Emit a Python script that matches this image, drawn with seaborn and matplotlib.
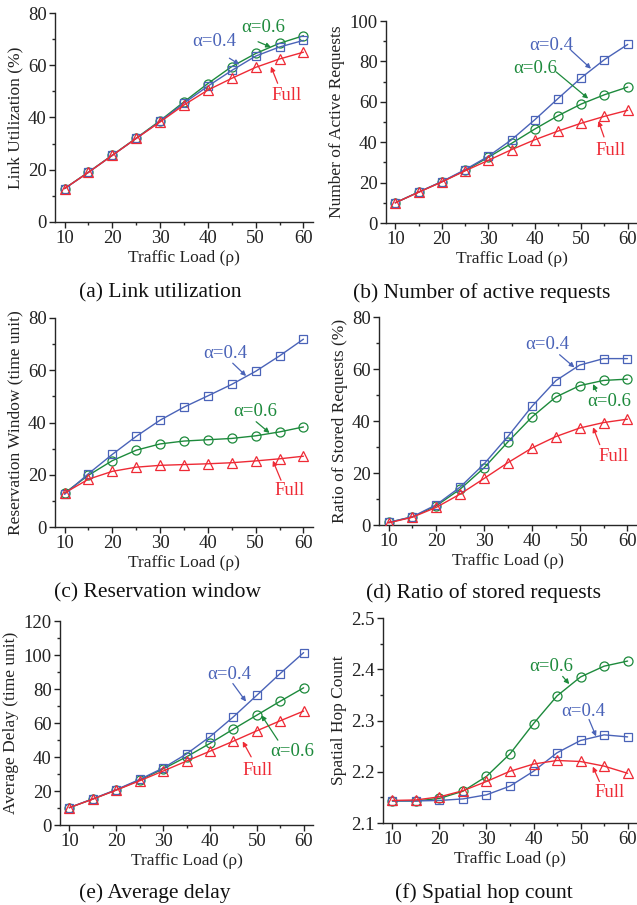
import matplotlib
matplotlib.use("Agg")
import matplotlib.pyplot as plt
import seaborn as sns
import pandas as pd

# traffic load
load = [10, 15, 20, 25, 30, 35, 40, 45, 50, 55, 60]

# (a) link utilization (%)
util_a04 = [12.8, 19.0, 25.5, 32.0, 38.5, 45.5, 52.0, 58.0, 63.5, 67.0, 69.5]
util_a06 = [12.8, 19.1, 25.6, 32.1, 38.8, 46.0, 53.0, 59.5, 64.5, 68.4, 71.3]
util_full = [12.8, 19.0, 25.5, 32.0, 38.3, 44.8, 50.5, 55.0, 59.2, 62.4, 65.0]

# (b) number of active requests
act_a04 = [10.0, 15.3, 20.5, 26.4, 33.0, 41.2, 51.1, 61.6, 71.9, 80.9, 88.4]
act_a06 = [10.0, 15.3, 20.4, 26.0, 32.5, 39.4, 46.5, 53.1, 58.9, 63.5, 67.3]
act_full = [10.0, 15.2, 20.3, 25.8, 31.0, 36.3, 41.2, 45.5, 49.4, 52.8, 55.8]

# (c) reservation window (time unit)
win_a04 = [12.5, 20.4, 27.8, 34.7, 40.9, 45.9, 50.2, 54.6, 59.6, 65.5, 71.9]
win_a06 = [13.0, 19.8, 25.4, 29.4, 31.8, 32.9, 33.4, 33.9, 34.9, 36.4, 38.3]
win_full = [13.0, 18.3, 21.3, 22.9, 23.6, 23.9, 24.2, 24.6, 25.3, 26.1, 27.1]

# (d) ratio of stored requests (%)
sto_a04 = [1.0, 3.2, 7.8, 14.6, 23.5, 34.1, 45.6, 55.5, 61.5, 64.0, 64.0]
sto_a06 = [1.0, 3.1, 7.4, 13.8, 22.0, 32.0, 41.5, 49.2, 53.6, 55.6, 56.1]
sto_full = [0.8, 3.0, 6.8, 11.9, 17.9, 24.0, 29.6, 34.0, 37.3, 39.4, 40.7]

# (e) average delay (time unit)
dly_a04 = [10.2, 15.4, 20.8, 26.8, 33.5, 41.8, 51.9, 63.6, 76.3, 89.1, 101.4]
dly_a06 = [10.2, 15.3, 20.6, 26.4, 33.0, 40.1, 48.0, 56.4, 64.6, 72.8, 80.7]
dly_full = [10.2, 15.2, 20.5, 26.0, 31.7, 37.6, 43.4, 49.3, 55.4, 61.3, 67.0]

# (f) spatial hop count
hop_a04 = [2.143, 2.143, 2.144, 2.147, 2.155, 2.172, 2.201, 2.237, 2.261, 2.272, 2.268]
hop_a06 = [2.143, 2.143, 2.148, 2.162, 2.191, 2.235, 2.294, 2.348, 2.385, 2.406, 2.416]
hop_full = [2.144, 2.145, 2.151, 2.163, 2.181, 2.201, 2.215, 2.222, 2.220, 2.211, 2.197]

BLUE = "#4a63b8"
GREEN = "#1d8a3c"
RED = "#ee2a35"

sns.set_style("ticks")
plt.rcParams["font.family"] = ["Liberation Serif", "DejaVu Serif"]

W, H = 637, 905
fig = plt.figure(figsize=(W / 100, H / 100), dpi=100)


def box(l, t, r, b):
    return [l / W, 1 - b / H, (r - l) / W, (b - t) / H]


def draw(ax, a04, a06, full, ylim, yticks, ylabel):
    df = pd.DataFrame({"load": load, "a04": a04, "a06": a06, "full": full})
    sns.lineplot(data=df, x="load", y="full", ax=ax, color=RED, marker="^",
                 markersize=7, markerfacecolor="none", markeredgecolor=RED,
                 markeredgewidth=0.9, lw=1.0, zorder=3)
    sns.lineplot(data=df, x="load", y="a06", ax=ax, color=GREEN, marker="o",
                 markersize=6.5, markerfacecolor="none", markeredgecolor=GREEN,
                 markeredgewidth=0.9, lw=1.0, zorder=2)
    sns.lineplot(data=df, x="load", y="a04", ax=ax, color=BLUE, marker="s",
                 markersize=6, markerfacecolor="none", markeredgecolor=BLUE,
                 markeredgewidth=0.9, lw=1.0, zorder=2)
    ax.set_xlim(8, 62)
    ax.set_ylim(*ylim)
    ax.set_xticks([10, 20, 30, 40, 50, 60])
    ax.set_xticks(load, minor=True)
    ax.set_yticks(yticks)
    step = yticks[1] - yticks[0]
    ax.set_yticks([v + step / 2 for v in yticks[:-1]], minor=True)
    ax.set_xlabel("Traffic Load (\u03c1)", fontsize=12.5, labelpad=2,
                  color="#222222")
    ax.set_ylabel(ylabel, fontsize=12.5, labelpad=3, color="#222222")
    ax.tick_params(which="major", length=4, width=1, labelsize=13.5, pad=2,
                   colors="#222222")
    ax.tick_params(which="minor", length=2.5, width=1)
    for s in ["left", "bottom"]:
        ax.spines[s].set_linewidth(1.0)
    sns.despine(ax=ax)


def note(ax, text, color, txt_xy, tail, head):
    ax.text(*txt_xy, text, color=color, fontsize=13.5, ha="center",
            va="center")
    ax.annotate("", xy=head, xytext=tail,
                arrowprops=dict(arrowstyle="-|>", color=color, lw=0.9,
                                mutation_scale=7, shrinkA=0, shrinkB=0))


def caption(x, y, text):
    fig.text(x / W, 1 - y / H, text, fontsize=15.5, ha="center",
             va="center", color="#111111")


A4 = "\u03b1=0.4"
A6 = "\u03b1=0.6"

# (a)
ax = fig.add_axes(box(55, 13, 313, 222))
draw(ax, util_a04, util_a06, util_full, (0, 80), [0, 20, 40, 60, 80],
     "Link Utilization (%)")
note(ax, A6, GREEN, (51.5, 74.5), (50.5, 69), (53.2, 66.9))
note(ax, A4, BLUE, (41.4, 69), (44.5, 62.7), (46.6, 60.3))
note(ax, "Full", RED, (56.5, 48.6), (54.6, 53.1), (53.2, 59.5))
caption(160, 293, "(a) Link utilization")

# (b)
ax = fig.add_axes(box(386, 21, 637, 223))
draw(ax, act_a04, act_a06, act_full, (0, 100), [0, 20, 40, 60, 80, 100],
     "Number of Active Requests")
note(ax, A4, BLUE, (43.6, 88), (47.8, 85.5), (52.1, 76.4))
note(ax, A6, GREEN, (40.1, 76.4), (44.6, 74.8), (51.5, 61.6))
note(ax, "Full", RED, (56.4, 36), (54.9, 42.6), (53.7, 50.5))
caption(482, 293, "(b) Number of active requests")

# (c)
ax = fig.add_axes(box(55, 318, 313, 527))
draw(ax, win_a04, win_a06, win_full, (0, 80), [0, 20, 40, 60, 80],
     "Reservation Window (time unit)")
note(ax, A4, BLUE, (43.6, 66.6), (45.2, 62.7), (48.0, 57.8))
note(ax, A6, GREEN, (49.9, 44.2), (50.1, 40.3), (52.9, 36.0))
note(ax, "Full", RED, (57.1, 14.1), (55.3, 17.9), (53.6, 25.4))
caption(158, 593, "(c) Reservation window")

# (d)
ax = fig.add_axes(box(379, 317, 637, 525))
draw(ax, sto_a04, sto_a06, sto_full, (0, 80), [0, 20, 40, 60, 80],
     "Ratio of Stored Requests (%)")
note(ax, A4, BLUE, (43.2, 69.4), (45.8, 65.5), (48.9, 60.6))
note(ax, A6, GREEN, (56.1, 47.6), (53.5, 51.4), (52.8, 54.2))
note(ax, "Full", RED, (57.0, 26.4), (54.2, 30.9), (52.8, 37.6))
caption(483, 593, "(d) Ratio of stored requests")

# (e)
ax = fig.add_axes(box(60, 621, 313, 825))
draw(ax, dly_a04, dly_a06, dly_full, (0, 120), [0, 20, 40, 60, 80, 100, 120],
     "Average Delay (time unit)")
note(ax, A4, BLUE, (44.2, 88.7), (44.9, 83.2), (47.7, 72.6))
note(ax, A6, GREEN, (57.5, 43.1), (54.5, 49.9), (51.0, 64.6))
note(ax, "Full", RED, (50.2, 31.9), (48.8, 40.1), (47.0, 49.2))
caption(155, 893, "(e) Average delay")

# (f)
ax = fig.add_axes(box(383, 618, 637, 823))
draw(ax, hop_a04, hop_a06, hop_full, (2.1, 2.5), [2.1, 2.2, 2.3, 2.4, 2.5],
     "Spatial Hop Count")
ax.set_yticklabels(["2.1", "2.2", "2.3", "2.4", "2.5"])
note(ax, A6, GREEN, (43.8, 2.406), (46.2, 2.386), (47.6, 2.371))
note(ax, A4, BLUE, (50.6, 2.318), (51.8, 2.302), (53.3, 2.269))
note(ax, "Full", RED, (56.2, 2.159), (54.0, 2.181), (52.6, 2.210))
caption(484, 893, "(f) Spatial hop count")

fig.savefig("out.png", dpi=100)
